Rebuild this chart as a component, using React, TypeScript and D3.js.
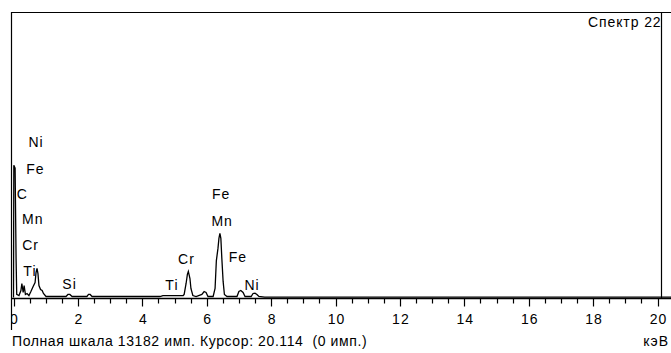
import React, { useRef, useEffect } from 'react';
import * as d3 from 'd3';

// spectrum: energy (keV) and counts
const energies = [
  0, 0.01, 0.05, 0.08, 0.1, 0.17, 0.23, 0.26, 0.3, 0.33, 0.37, 0.42, 0.48, 0.54, 0.61, 0.67,
  0.7, 0.73, 0.76, 0.79, 0.84, 0.89, 0.93, 1.01, 1.63, 1.69, 1.75, 1.82, 2.28, 2.33, 2.38, 2.44,
  4.55, 4.64, 5.27, 5.3, 5.36, 5.4, 5.43, 5.48, 5.51, 5.57, 5.67, 5.85, 5.92, 5.98, 6.04,
  6.2, 6.26, 6.3, 6.35, 6.38, 6.41, 6.44, 6.47, 6.51, 6.55, 6.63, 6.94, 7.0, 7.06, 7.13, 7.19,
  7.38, 7.44, 7.5, 7.56, 7.62, 7.8, 20.5,
];
const counts = [
  0, 6085, 5950, 1800, 140, 90, 320, 645, 230, 550, 140, 185, 90, 275, 505, 690,
  1150, 1335, 1100, 550, 370, 320, 185, 46, 46, 140, 140, 46, 46, 140, 140, 46,
  46, 90, 90, 140, 645, 1060, 1200, 875, 415, 90, 46, 140, 275, 230, 46,
  46, 415, 1700, 2260, 2720, 2950, 2720, 1800, 740, 140, 46, 46, 275, 320, 230, 46,
  46, 185, 200, 140, 46, 20, 20,
];

// peak labels: text, energy of label centre, count level of label centre
const peakNames = ['Ni', 'Fe', 'C', 'Mn', 'Cr', 'Ti', 'Si', 'Ti', 'Cr', 'Fe', 'Mn', 'Fe', 'Ni'];
const peakEnergies = [0.7, 0.68, 0.27, 0.6, 0.53, 0.51, 1.74, 4.92, 5.37, 6.45, 6.48, 6.97, 7.41];
const peakLevels = [7190, 5950, 4790, 3640, 2440, 1245, 690, 600, 1800, 4790, 3550, 1890, 600];

const tickValues = [0, 2, 4, 6, 8, 10, 12, 14, 16, 18, 20];
const fullScale = 13182;
const cursorKev = 20.114;
const footer = 'Полная шкала 13182 имп. Курсор: 20.114  (0 имп.)';
const spectrumName = 'Спектр 22';

const Spectrum = () => {
  const ref = useRef<SVGSVGElement>(null);

  useEffect(() => {
    const svg = d3.select(ref.current);
    svg.selectAll('*').remove();

    const width = 671;
    const height = 353;
    const left = 11;
    const top = 12;
    const base = 298.5;
    const font = 'Arial, "Liberation Sans", sans-serif';

    const x = d3.scaleLinear().domain([0, 20]).range([13.5, 657.5]);
    const y = d3.scaleLinear().domain([0, fullScale]).range([base, top]);

    svg.append('rect').attr('width', width).attr('height', height).attr('fill', 'white');

    svg.append('clipPath').attr('id', 'plotclip')
      .append('rect').attr('x', left).attr('y', 0).attr('width', width).attr('height', height);

    // frame
    svg.append('line')
      .attr('x1', left).attr('x2', width).attr('y1', top + 0.5).attr('y2', top + 0.5)
      .attr('stroke', 'black').attr('stroke-width', 1.2);
    svg.append('line')
      .attr('x1', left + 0.5).attr('x2', left + 0.5).attr('y1', top).attr('y2', 330)
      .attr('stroke', 'black').attr('stroke-width', 1.2);

    // spectrum
    const pts: [number, number][] = energies.map((e, i) => [e, counts[i]]);
    const line = d3.line<[number, number]>()
      .x(d => x(d[0]))
      .y(d => y(d[1]) - 1);
    svg.append('path')
      .attr('d', line(pts))
      .attr('clip-path', 'url(#plotclip)')
      .attr('fill', 'none')
      .attr('stroke', 'black')
      .attr('stroke-width', 1.3);

    // axis line and ticks
    svg.append('line')
      .attr('x1', left).attr('x2', width).attr('y1', base).attr('y2', base)
      .attr('stroke', 'black').attr('stroke-width', 1.5);
    const minor = d3.range(0, 20.51, 0.5);
    svg.selectAll('.tick')
      .data(minor)
      .enter()
      .append('line')
      .attr('x1', d => Math.round(x(d)) + 0.5)
      .attr('x2', d => Math.round(x(d)) + 0.5)
      .attr('y1', base)
      .attr('y2', d => (d % 2 === 0 ? base + 8 : base + 5))
      .attr('stroke', 'black')
      .attr('stroke-width', 1.2);

    svg.selectAll('.ticklabel')
      .data(tickValues)
      .enter()
      .append('text')
      .attr('clip-path', 'url(#plotclip)')
      .attr('x', d => x(d) + 1)
      .attr('y', 324)
      .attr('text-anchor', 'middle')
      .attr('font-family', font)
      .attr('font-size', 14)
      .attr('letter-spacing', 1)
      .text(d => d);

    // cursor
    svg.append('line')
      .attr('x1', Math.round(x(cursorKev)) + 0.5).attr('x2', Math.round(x(cursorKev)) + 0.5)
      .attr('y1', top).attr('y2', base)
      .attr('stroke', 'black').attr('stroke-width', 1.2);

    // peak labels
    svg.selectAll('.peak')
      .data(peakNames)
      .enter()
      .append('text')
      .attr('x', (d, i) => x(peakEnergies[i]))
      .attr('y', (d, i) => y(peakLevels[i]) + 5)
      .attr('text-anchor', 'middle')
      .attr('font-family', font)
      .attr('font-size', 14)
      .attr('letter-spacing', 1)
      .text(d => d);

    svg.append('text')
      .attr('x', 588).attr('y', 27)
      .attr('font-family', font).attr('font-size', 14).attr('letter-spacing', 0.9)
      .text(spectrumName);

    svg.append('text')
      .attr('x', 12).attr('y', 346)
      .attr('font-family', font).attr('font-size', 14).attr('letter-spacing', 0.6)
      .style('white-space', 'pre')
      .text(footer);

    svg.append('text')
      .attr('x', 669).attr('y', 346)
      .attr('text-anchor', 'end')
      .attr('font-family', font).attr('font-size', 14).attr('letter-spacing', 1)
      .text('кэВ');
  }, []);

  return <svg ref={ref} width="671" height="353" style={{ display: 'block' }}></svg>;
};

export default function App() {
  return (
    <div style={{ position: 'absolute', left: 0, top: 0 }}>
      <Spectrum />
    </div>
  );
}
